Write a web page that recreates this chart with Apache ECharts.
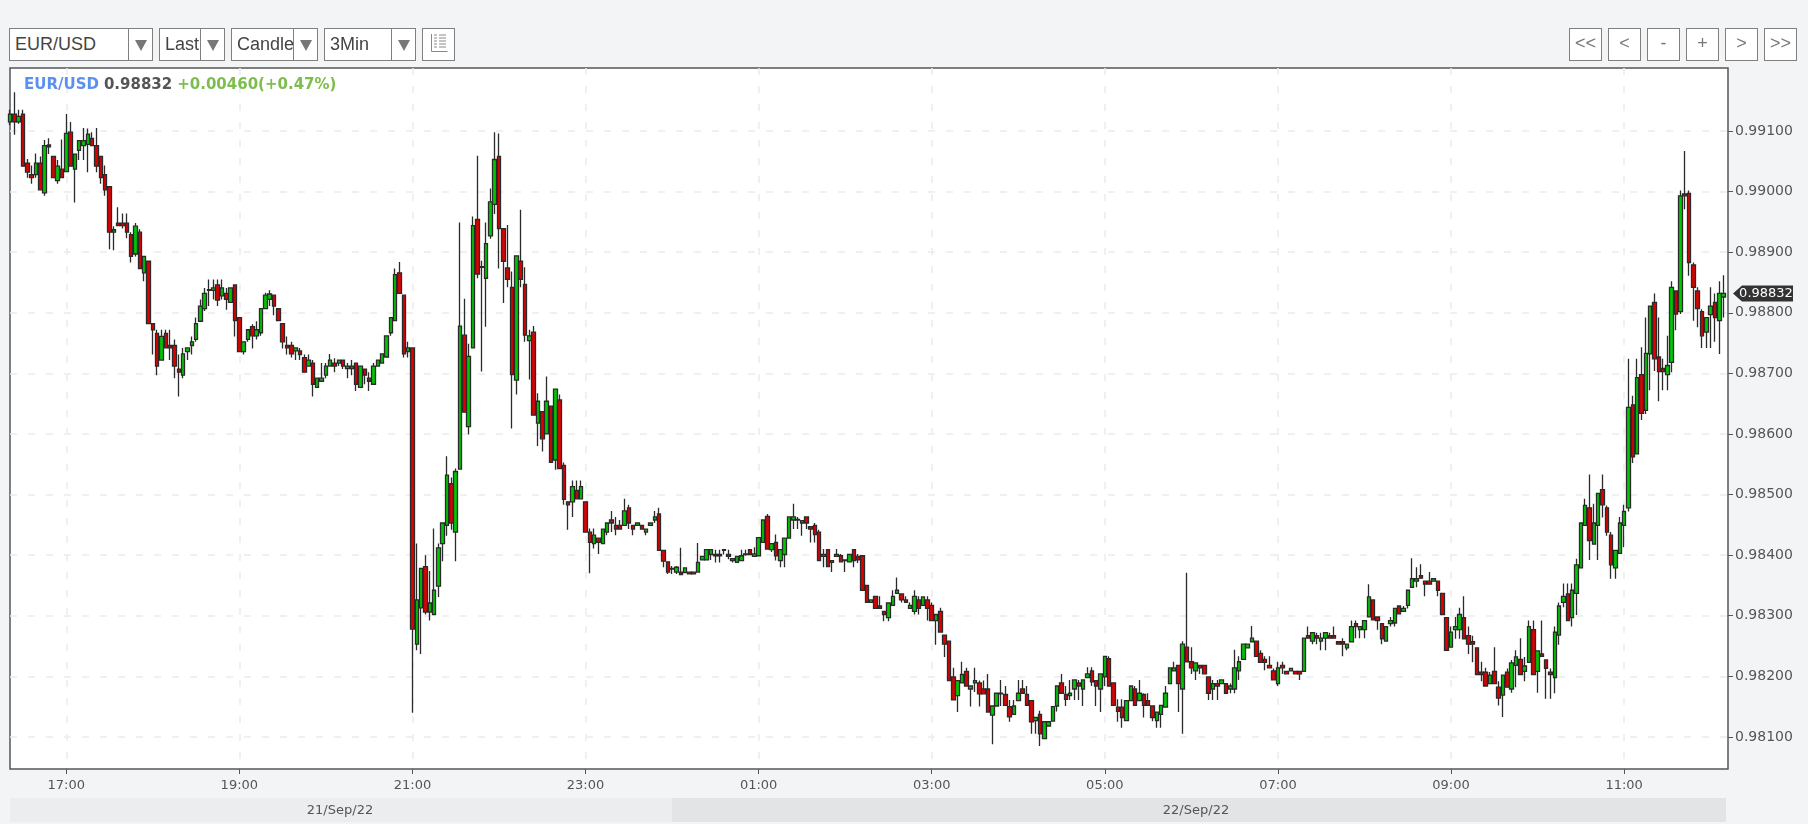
<!DOCTYPE html>
<html>
<head>
<meta charset="utf-8">
<title>EUR/USD 3Min</title>
<script src="https://cdn.jsdelivr.net/npm/echarts@6/dist/echarts.min.js"></script>
<style>
html, body { margin: 0; padding: 0; background: #f3f4f6; overflow: hidden; }
#chart { position: absolute; left: 0; top: 0; width: 1808px; height: 824px; }
.box { position: absolute; top: 28px; height: 31px; background: #fff; border: 1px solid #808080; z-index: 2;
	font: 18px/31px "Liberation Sans", Arial, sans-serif; color: #444; overflow: hidden; }
.box span { position: absolute; left: 5px; top: 0; white-space: nowrap; }
.box i { position: absolute; top: 0; bottom: 0; background: #fff; border-left: 1px solid #808080; }
.box i:after { content: ''; position: absolute; left: 50%; top: 11px; margin-left: -6px;
	border-left: 6px solid transparent; border-right: 6px solid transparent; border-top: 11px solid #777; }
.btn { position: absolute; top: 28px; width: 31px; height: 31px; background: #fff; border: 1px solid #808080; z-index: 2;
	font: 18px/29px "Liberation Sans", Arial, sans-serif; color: #777; text-align: center; }
</style>
</head>
<body>
<div id="chart"></div>
<div class="box" style="left:9px;width:142px"><span>EUR/USD</span><i style="left:118px;width:24px"></i></div>
<div class="box" style="left:159px;width:64px"><span>Last</span><i style="left:40px;width:24px"></i></div>
<div class="box" style="left:231px;width:85px"><span>Candle</span><i style="left:61px;width:24px"></i></div>
<div class="box" style="left:324px;width:90px"><span>3Min</span><i style="left:66px;width:24px"></i></div>
<div class="btn" style="left:422px">
	<svg width="31" height="31" style="display:block"><path d="M8.5 5v17.5h16M11 6h3M16 6h7M11 9h3M16 9h7M11 12h3M16 12h7M11 15h3M16 15h7M11 18h3M16 18h7" fill="none" stroke="#888" stroke-width="1"/></svg>
</div>
<div class="btn" style="left:1569px">&lt;&lt;</div>
<div class="btn" style="left:1608px">&lt;</div>
<div class="btn" style="left:1647px">-</div>
<div class="btn" style="left:1686px">+</div>
<div class="btn" style="left:1725px">&gt;</div>
<div class="btn" style="left:1764px">&gt;&gt;</div>
<script>
// prices are in 1/100000, one row = 10 candles of 3 minutes, first one at 16:21
const opens = [
99115,99128,99115,99128,99047,99028,99028,99047,98998,99077,
99058,99018,99037,99033,99098,99037,99068,99076,99078,99088,
99076,99058,99028,99008,98933,98948,98948,98948,98929,98897,
98933,98866,98885,98782,98766,98722,98766,98746,98746,98707,
98697,98736,98746,98756,98786,98807,98837,98837,98846,98828,
98832,98817,98846,98792,98736,98756,98777,98762,98767,98807,
98822,98829,98807,98782,98746,98746,98737,98737,98726,98712,
98717,98677,98687,98697,98712,98717,98717,98722,98708,98708,
98717,98677,98707,98692,98682,98712,98717,98727,98767,98787,
98866,98829,98736,98742,98253,98313,98381,98306,98302,98349,
98419,98449,98518,98438,98542,98763,98612,98742,98954,98875,
98857,98927,98979,99058,98939,98874,98842,98689,98885,98847,
98754,98768,98618,98637,98600,98646,98557,98656,98548,98488,
98488,98507,98493,98488,98438,98419,98428,98419,98438,98458,
98449,98449,98449,98478,98449,98449,98449,98438,98449,98458,
98468,98408,98389,98377,98372,98372,98371,98372,98372,98372,
98392,98392,98401,98401,98401,98409,98401,98391,98388,98391,
98402,98409,98398,98399,98421,98464,98409,98421,98391,98401,
98428,98458,98458,98453,98463,98447,98449,98438,98398,98409,
98388,98398,98399,98391,98389,98409,98398,98399,98350,98322,
98332,98316,98307,98297,98317,98337,98336,98326,98312,98307,
98326,98317,98326,98317,98292,98307,98268,98258,98199,98168,
98189,98208,98179,98189,98189,98179,98179,98136,98151,98171,
98170,98150,98137,98160,98179,98170,98160,98127,98137,98097,
98118,98126,98151,98189,98170,98168,98179,98189,98179,98198,
98209,98193,98179,98199,98229,98189,98149,98149,98127,98160,
98179,98160,98170,98160,98151,98127,98137,98149,98188,98209,
98218,98179,98248,98224,98209,98218,98218,98199,98179,98188,
98188,98188,98179,98179,98209,98228,98247,98257,98258,98238,
98228,98218,98209,98188,98218,98208,98209,98208,98208,98208,
98267,98258,98267,98258,98263,98267,98267,98257,98257,98247,
98257,98287,98277,98277,98298,98326,98298,98287,98258,98287,
98288,98316,98307,98317,98347,98357,98366,98357,98357,98357,
98357,98337,98297,98248,98277,98277,98297,98267,98257,98247,
98207,98207,98188,98208,98182,98169,98207,98179,98218,98228,
98208,98223,98277,98208,98237,98227,98207,98198,98268,98322,
98336,98297,98337,98379,98449,98478,98418,98449,98508,98478,
98433,98379,98403,98449,98478,98648,98567,98698,98639,98732,
98817,98727,98708,98698,98718,98836,98802,98996,98997,98879,
98836,98802,98768,98797,98817,98787,98826];
const closes = [
99128,99115,99124,99042,99032,99023,99047,99003,99076,99074,
99023,99042,99023,99096,99042,99062,99084,99084,99095,99076,
99042,99023,99003,98933,98937,98944,98944,98933,98893,98943,
98873,98893,98782,98772,98712,98761,98742,98742,98712,98702,
98732,98742,98752,98782,98811,98832,98838,98841,98821,98841,
98822,98841,98787,98736,98752,98772,98762,98772,98807,98829,
98831,98811,98787,98752,98742,98732,98742,98731,98702,98722,
98682,98692,98692,98712,98722,98712,98722,98712,98712,98712,
98682,98712,98697,98687,98712,98722,98732,98762,98792,98863,
98832,98732,98742,98278,98326,98378,98306,98321,98342,98412,
98453,98532,98453,98538,98778,98636,98728,98944,98864,98876,
98914,98983,99053,98939,98885,98855,98698,98894,98855,98763,
98762,98631,98654,98592,98654,98553,98674,98543,98492,98483,
98513,98493,98513,98438,98421,98433,98421,98443,98453,98453,
98443,98443,98473,98453,98443,98453,98443,98443,98453,98463,
98408,98390,98372,98378,98380,98368,98379,98369,98369,98388,
98398,98409,98409,98399,98399,98408,98398,98394,98398,98399,
98401,98401,98402,98429,98458,98410,98419,98399,98409,98428,
98463,98463,98459,98457,98453,98443,98434,98391,98401,98381,
98391,98401,98389,98392,98401,98391,98392,98342,98322,98326,
98312,98312,98302,98321,98332,98342,98326,98322,98317,98332,
98312,98331,98312,98292,98302,98273,98253,98193,98161,98193,
98203,98184,98184,98193,98171,98171,98141,98151,98172,98172,
98152,98133,98151,98172,98172,98152,98125,98132,98105,98125,
98125,98150,98184,98172,98162,98172,98194,98184,98194,98204,
98191,98184,98204,98233,98184,98152,98142,98132,98160,98184,
98152,98172,98152,98152,98132,98141,98152,98172,98214,98214,
98188,98253,98224,98214,98222,98214,98204,98172,98188,98184,
98194,98172,98184,98214,98224,98253,98253,98263,98233,98223,
98223,98214,98194,98214,98214,98204,98213,98204,98204,98263,
98263,98272,98263,98263,98272,98263,98263,98253,98253,98253,
98282,98282,98282,98292,98331,98293,98292,98262,98282,98292,
98312,98303,98312,98342,98361,98361,98362,98352,98352,98361,
98342,98302,98243,98273,98282,98302,98262,98253,98253,98203,
98203,98184,98202,98188,98164,98202,98182,98222,98232,98203,
98217,98282,98203,98242,98233,98213,98203,98273,98316,98332,
98292,98342,98384,98453,98482,98424,98453,98502,98483,98438,
98384,98408,98453,98472,98644,98562,98693,98634,98733,98811,
98724,98703,98703,98713,98842,98798,98993,98993,98883,98842,
98807,98762,98792,98811,98792,98832,98832];
const lows = [
99110,99094,99112,99042,99023,99013,99023,99003,98993,99062,
99023,99013,99023,99033,99042,98982,99052,99052,99032,99076,
99032,99013,98993,98905,98903,98944,98939,98923,98883,98893,
98873,98852,98782,98731,98697,98722,98742,98722,98692,98662,
98692,98722,98731,98752,98786,98803,98811,98822,98811,98822,
98805,98817,98761,98736,98731,98752,98741,98756,98762,98807,
98811,98796,98787,98741,98731,98726,98722,98722,98702,98712,
98662,98677,98687,98692,98712,98702,98712,98707,98692,98697,
98671,98677,98682,98671,98682,98712,98717,98727,98762,98787,
98832,98726,98726,98140,98243,98237,98302,98292,98302,98331,
98390,98432,98442,98390,98542,98636,98599,98742,98857,98703,
98777,98922,98963,98873,98816,98842,98609,98665,98842,98752,
98690,98631,98580,98571,98600,98553,98541,98543,98483,98442,
98463,98493,98493,98438,98370,98411,98402,98419,98433,98438,
98433,98443,98449,98443,98433,98449,98443,98433,98449,98453,
98408,98380,98369,98369,98369,98368,98371,98369,98369,98372,
98392,98392,98392,98388,98388,98401,98393,98388,98388,98391,
98399,98401,98398,98399,98421,98410,98405,98391,98380,98380,
98428,98443,98443,98432,98443,98421,98421,98391,98380,98381,
98372,98398,98389,98372,98389,98380,98387,98342,98322,98322,
98312,98312,98291,98291,98317,98337,98322,98322,98312,98302,
98302,98317,98292,98292,98252,98273,98232,98193,98161,98141,
98189,98184,98150,98174,98150,98171,98141,98088,98151,98151,
98152,98125,98137,98160,98172,98152,98105,98105,98085,98097,
98118,98126,98142,98172,98151,98161,98161,98161,98151,98198,
98184,98151,98141,98184,98184,98152,98125,98115,98127,98160,
98152,98160,98132,98152,98126,98115,98115,98149,98188,98209,
98141,98105,98224,98204,98194,98204,98204,98161,98161,98161,
98188,98172,98172,98172,98194,98228,98247,98257,98233,98223,
98210,98214,98194,98184,98204,98204,98209,98204,98194,98208,
98263,98253,98253,98243,98243,98263,98263,98253,98233,98243,
98257,98263,98263,98263,98298,98293,98277,98253,98258,98282,
98282,98303,98307,98312,98347,98347,98362,98332,98352,98357,
98332,98302,98243,98248,98262,98262,98262,98237,98223,98203,
98192,98184,98188,98188,98152,98133,98182,98173,98182,98203,
98192,98223,98203,98173,98233,98163,98163,98172,98252,98314,
98292,98282,98301,98379,98449,98392,98418,98392,98462,98432,
98361,98361,98403,98413,98472,98552,98567,98623,98633,98672,
98704,98654,98672,98672,98702,98771,98798,98971,98861,98787,
98776,98742,98742,98742,98752,98732,98792];
const highs = [
99135,99164,99135,99135,99054,99043,99063,99058,99085,99088,
99058,99052,99086,99128,99115,99062,99084,99105,99104,99098,
99105,99058,99043,99008,98943,98974,98964,98964,98933,98948,
98938,98893,98885,98782,98772,98772,98772,98772,98756,98731,
98742,98742,98761,98792,98822,98841,98855,98855,98855,98855,
98841,98841,98846,98792,98752,98772,98781,98786,98807,98833,
98837,98829,98807,98782,98761,98752,98742,98742,98731,98731,
98722,98692,98717,98717,98732,98725,98722,98722,98717,98722,
98717,98712,98707,98702,98717,98722,98732,98762,98792,98873,
98884,98829,98752,98742,98419,98378,98400,98374,98444,98419,
98453,98563,98528,98543,98949,98823,98749,98959,99059,98886,
98949,99005,99098,99096,98939,98945,98868,98894,98970,98875,
98772,98778,98667,98637,98695,98646,98674,98665,98553,98488,
98523,98523,98523,98488,98444,98444,98428,98443,98453,98473,
98463,98458,98493,98483,98449,98453,98449,98443,98453,98473,
98478,98408,98389,98382,98382,98412,98379,98372,98372,98420,
98398,98409,98409,98409,98409,98409,98409,98394,98398,98409,
98409,98409,98413,98429,98458,98468,98419,98434,98409,98428,
98463,98485,98463,98458,98463,98447,98453,98442,98410,98410,
98391,98410,98402,98392,98401,98409,98402,98399,98350,98326,
98332,98332,98307,98321,98342,98363,98336,98332,98322,98342,
98332,98332,98332,98322,98302,98313,98268,98258,98214,98193,
98224,98214,98184,98214,98193,98193,98204,98151,98172,98194,
98184,98161,98161,98194,98194,98184,98160,98132,98143,98125,
98125,98150,98184,98204,98184,98194,98194,98194,98194,98215,
98215,98193,98204,98233,98233,98189,98162,98162,98160,98184,
98184,98194,98172,98172,98151,98141,98152,98184,98214,98224,
98218,98258,98371,98248,98222,98218,98218,98199,98194,98194,
98194,98188,98188,98244,98233,98253,98253,98283,98258,98243,
98233,98233,98213,98224,98224,98208,98213,98208,98208,98263,
98282,98272,98272,98272,98272,98272,98282,98257,98263,98253,
98292,98292,98282,98292,98352,98326,98298,98287,98282,98298,
98312,98316,98316,98342,98395,98380,98385,98357,98372,98362,
98357,98337,98297,98282,98298,98313,98332,98282,98267,98247,
98224,98214,98207,98248,98192,98202,98213,98227,98243,98263,
98232,98292,98292,98242,98292,98227,98213,98282,98322,98353,
98353,98353,98394,98453,98493,98533,98485,98502,98533,98482,
98438,98408,98463,98483,98724,98663,98724,98743,98792,98811,
98832,98792,98724,98762,98852,98836,99002,99067,99002,98883,
98842,98806,98792,98842,98832,98852,98862];

const tickLabels = ['17:00', '19:00', '21:00', '23:00', '01:00', '03:00', '05:00', '07:00', '09:00', '11:00'];
const priceTicks = [0.981, 0.982, 0.983, 0.984, 0.985, 0.986, 0.987, 0.988, 0.989, 0.990, 0.991];
const dayBands = [['21/Sep/22', 10, 672], ['22/Sep/22', 672, 1726]];
const symbol = 'EUR/USD';
const lastPrice = '0.98832';
const lastChange = '+0.00460(+0.47%)';

const pad = (n) => String(n).padStart(2, '0');
// one empty slot at the end so the last candle is not on the border
const categories = [];
for (let i = 0; i <= opens.length; i++) {
	const m = (16 * 60 + 21 + i * 3) % 1440;
	categories.push(pad(Math.floor(m / 60)) + ':' + pad(m % 60));
}
const candles = opens.map((o, i) => [o / 1e5, closes[i] / 1e5, lows[i] / 1e5, highs[i] / 1e5]);
candles.push('-');
const onHourTick = (i, v) => tickLabels.includes(v);

const chart = echarts.init(document.getElementById('chart'));
const bandGraphics = [];
dayBands.forEach((b, i) => {
	bandGraphics.push({
		type: 'rect', shape: { x: b[1], y: 798, width: b[2] - b[1], height: 24 },
		style: { fill: i === 0 ? '#ecedef' : '#e3e4e6' }, silent: true
	});
	bandGraphics.push({
		type: 'text', x: i === 0 ? 340 : 1196, y: 811,
		style: { text: b[0], fill: '#555', font: '13px "DejaVu Sans"', textAlign: 'center', textVerticalAlign: 'middle' }
	});
});

chart.setOption({
	animation: false,
	backgroundColor: 'transparent',
	title: {
		left: 24, top: 76, padding: 0,
		text: '{a|' + symbol + '} {b|' + lastPrice + '} {c|' + lastChange + '}',
		textStyle: {
			rich: {
				a: { fontFamily: 'DejaVu Sans', fontWeight: 'bold', fontSize: 15, color: '#5b8ff0' },
				b: { fontFamily: 'DejaVu Sans', fontWeight: 'bold', fontSize: 15, color: '#555' },
				c: { fontFamily: 'DejaVu Sans', fontWeight: 'bold', fontSize: 15, color: '#7dbd4e' }
			}
		}
	},
	grid: {
		show: true, left: 10, top: 68, width: 1718, height: 701,
		backgroundColor: '#fff', borderColor: '#555', borderWidth: 1.5
	},
	xAxis: {
		type: 'category',
		data: categories,
		boundaryGap: false,
		axisLine: { show: false },
		axisTick: { interval: onHourTick, alignWithLabel: true, length: 5, lineStyle: { color: '#555' } },
		axisLabel: { interval: onHourTick, margin: 10, color: '#555', fontFamily: 'DejaVu Sans', fontSize: 13 },
		splitLine: { show: true, interval: onHourTick, lineStyle: { color: '#ececec', width: 1.5, type: [7, 11] } }
	},
	yAxis: {
		type: 'value',
		position: 'right',
		scale: true,
		min: 0.98047,
		max: 0.99204,
		axisLine: { show: false },
		axisTick: { show: true, customValues: priceTicks, length: 5, lineStyle: { color: '#555' } },
		axisLabel: {
			customValues: priceTicks, margin: 7, color: '#555', fontFamily: 'DejaVu Sans', fontSize: 14,
			formatter: (v) => v.toFixed(5)
		},
		splitLine: { show: true, lineStyle: { color: '#ececec', width: 1.5, type: [7, 11] } }
	},
	graphic: bandGraphics,
	series: [{
		type: 'candlestick',
		data: candles,
		barWidth: 4,
		itemStyle: {
			color: '#00c800', color0: '#dc0000',
			borderColor: '#2a2a2a', borderColor0: '#2a2a2a', borderWidth: 1.3
		},
		markPoint: {
			silent: true,
			animation: false,
			symbol: 'path://M0 8L9 0H60V16H9Z',
			symbolSize: [60, 16],
			symbolKeepAspect: false,
			symbolOffset: [35, 0],
			itemStyle: { color: '#333' },
			label: {
				show: true, position: 'inside', offset: [3, 0], color: '#fff',
				fontFamily: 'DejaVu Sans', fontSize: 13, formatter: lastPrice
			},
			data: [{ coord: [opens.length, Number(lastPrice)] }]
		}
	}]
});
</script>
</body>
</html>
